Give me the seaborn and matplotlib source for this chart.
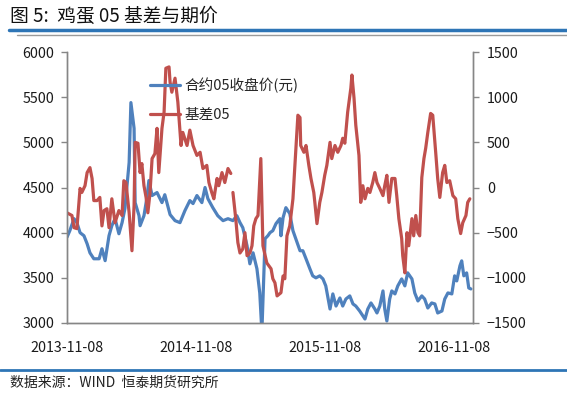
import matplotlib
matplotlib.use("Agg")
import matplotlib.pyplot as plt
import matplotlib.dates as mdates
from matplotlib.lines import Line2D
import numpy as np
import pandas as pd
import seaborn as sns

# ---- data ----
price_dates = [
    "2013-11-08", "2013-11-16", "2013-11-28", "2013-12-06", "2013-12-15", "2013-12-26",
    "2014-01-04", "2014-01-12", "2014-01-23", "2014-02-07", "2014-02-15", "2014-02-24",
    "2014-03-07", "2014-03-15", "2014-03-24", "2014-04-04", "2014-04-13", "2014-04-21",
    "2014-05-03", "2014-05-08", "2014-05-17", "2014-05-20", "2014-05-31", "2014-06-03",
    "2014-06-14", "2014-06-22", "2014-06-28", "2014-07-07", "2014-07-21", "2014-08-04",
    "2014-08-12", "2014-08-27", "2014-09-10", "2014-09-24", "2014-10-08", "2014-10-22",
    "2014-10-31", "2014-11-11", "2014-11-25", "2014-12-04", "2014-12-12", "2014-12-26",
    "2015-01-09", "2015-01-24", "2015-02-07", "2015-02-21", "2015-03-04", "2015-03-13",
    "2015-03-21", "2015-04-02", "2015-04-10", "2015-04-19", "2015-04-30", "2015-05-08",
    "2015-05-14", "2015-05-23", "2015-05-31", "2015-06-06", "2015-06-14", "2015-06-23",
    "2015-07-04", "2015-07-07", "2015-07-13", "2015-07-21", "2015-08-01", "2015-08-10",
    "2015-08-18", "2015-08-30", "2015-09-07", "2015-09-16", "2015-09-27", "2015-10-05",
    "2015-10-14", "2015-10-25", "2015-11-03", "2015-11-11", "2015-11-23", "2015-12-01",
    "2015-12-10", "2015-12-21", "2015-12-29", "2016-01-07", "2016-01-18", "2016-01-27",
    "2016-02-04", "2016-02-15", "2016-03-01", "2016-03-09", "2016-03-18", "2016-03-29",
    "2016-04-04", "2016-04-12", "2016-04-21", "2016-04-26", "2016-05-02", "2016-05-10",
    "2016-05-16", "2016-05-25", "2016-06-02", "2016-06-13", "2016-06-22", "2016-06-30",
    "2016-07-12", "2016-07-20", "2016-07-29", "2016-08-09", "2016-08-17", "2016-08-26",
    "2016-09-06", "2016-09-15", "2016-09-23", "2016-10-05", "2016-10-13", "2016-10-22",
    "2016-11-02", "2016-11-10", "2016-11-16", "2016-11-25", "2016-11-30", "2016-12-06",
    "2016-12-14", "2016-12-20", "2016-12-26",
]
price_05 = [
    3950, 4022, 4155, 4111, 4000, 3966,
    3877, 3777, 3711, 3711, 3822, 3690,
    3966, 4077, 4155, 3988, 4111, 4266,
    4777, 5440, 5155, 4333, 4188, 4077,
    4188, 4377, 4577, 4411, 4444, 4333,
    4420, 4200, 4133, 4111, 4244, 4355,
    4322, 4411, 4333, 4500, 4377, 4277,
    4188, 4133, 4155, 4133, 4188, 4111,
    4055, 3855, 3655, 3777, 3600, 3333,
    2900, 3933, 3966, 4000, 4022, 4100,
    4155, 3966, 4166, 4277, 4211, 4022,
    3933, 3800, 3800, 3711, 3600, 3522,
    3500, 3522, 3488, 3411, 3155, 3322,
    3188, 3277, 3188, 3266, 3300, 3211,
    3188, 3133, 3044, 3155, 3222, 3155,
    3111, 3188, 3355, 3155, 3022, 3266,
    3355, 3322, 3411, 3488, 3411, 3555,
    3488, 3333, 3244, 3300, 3266, 3166,
    3222, 3211, 3111, 3133, 3266, 3333,
    3322, 3522, 3466, 3633, 3688, 3522,
    3555, 3388, 3377,
]

basis_dates = [
    "2013-11-08", "2013-11-22", "2013-11-28", "2013-12-06", "2013-12-15", "2013-12-20",
    "2013-12-29", "2014-01-04", "2014-01-12", "2014-01-18", "2014-01-23", "2014-02-01",
    "2014-02-09", "2014-02-15", "2014-02-21", "2014-03-01", "2014-03-07", "2014-03-15",
    "2014-03-24", "2014-04-04", "2014-04-13", "2014-04-18", "2014-04-24", "2014-05-03",
    "2014-05-11", "2014-05-17", "2014-05-20", "2014-05-28", "2014-06-03", "2014-06-08",
    "2014-06-14", "2014-06-20", "2014-06-25", "2014-07-01", "2014-07-07", "2014-07-15",
    "2014-07-21", "2014-07-26", "2014-08-04", "2014-08-10", "2014-08-15", "2014-08-24",
    "2014-08-27", "2014-09-01", "2014-09-10", "2014-09-18", "2014-09-27", "2014-10-02",
    "2014-10-14", "2014-10-22", "2014-10-31", "2014-11-11", "2014-11-20", "2014-11-28",
    "2014-12-09", "2014-12-15", "2014-12-23", "2014-12-29", "2015-01-07", "2015-01-12",
    "2015-01-21", "2015-01-29", "2015-02-07", "2015-02-15",
    "2015-02-18",  # no data here, the line breaks
    "2015-02-21", "2015-03-01", "2015-03-07", "2015-03-13", "2015-03-21", "2015-03-27",
    "2015-04-02", "2015-04-10", "2015-04-16", "2015-04-21", "2015-04-27", "2015-05-03",
    "2015-05-11", "2015-05-17", "2015-05-28", "2015-06-09", "2015-06-14", "2015-06-20",
    "2015-06-26", "2015-07-07", "2015-07-13", "2015-07-18", "2015-07-24", "2015-08-01",
    "2015-08-10", "2015-08-15", "2015-08-24", "2015-08-30", "2015-09-01", "2015-09-10",
    "2015-09-16", "2015-09-24", "2015-09-30", "2015-10-08", "2015-10-11", "2015-10-17",
    "2015-10-25", "2015-10-31", "2015-11-08", "2015-11-14", "2015-11-23", "2015-11-28",
    "2015-12-07", "2015-12-15", "2015-12-24", "2015-12-29", "2016-01-04", "2016-01-12",
    "2016-01-21", "2016-01-24", "2016-01-30", "2016-02-04", "2016-02-13", "2016-02-18",
    "2016-02-24", "2016-03-01", "2016-03-09", "2016-03-15", "2016-03-23", "2016-03-29",
    "2016-04-04", "2016-04-12", "2016-04-21", "2016-04-26", "2016-05-02", "2016-05-08",
    "2016-05-16", "2016-05-25", "2016-05-30", "2016-06-05", "2016-06-13", "2016-06-16",
    "2016-06-22", "2016-06-28", "2016-07-03", "2016-07-12", "2016-07-17", "2016-07-23",
    "2016-07-29", "2016-08-03", "2016-08-09", "2016-08-15", "2016-08-20", "2016-08-26",
    "2016-09-03", "2016-09-09", "2016-09-18", "2016-09-23", "2016-09-29", "2016-10-07",
    "2016-10-13", "2016-10-19", "2016-10-27", "2016-11-05", "2016-11-13", "2016-11-19",
    "2016-11-27", "2016-12-03", "2016-12-12", "2016-12-17", "2016-12-23",
]
basis_05 = [
    -280, -310, -445, -455, -10, -55,
    20, 165, 220, 100, -145, -145,
    -110, -425, -255, -235, -445, -125,
    -390, -255, -310, 75, 55, -280,
    -700, -200, 500, 490, 165, 265,
    20, -110, -280, -65, 320, 375,
    655, 165, 655, 835, 1320, 1335,
    1165, 1055, 1210, 945, 465, 610,
    465, 635, 465, 355, 390, 210,
    245, 55, -55, -125, 100, 20,
    165, 55, 210, 155,
    np.nan,
    -55, -345, -610, -725, -680, -500,
    -755, -725, -645, -425, -345, -310,
    320, -645, -835, -900, -1010, -1055,
    -1200, -1165, -980, -1010, -535, -425,
    -125, 210, 800, 775, 465, 390,
    465, 245, 100, -55, -165, -400,
    -165, -55, 135, 245, 500, 320,
    465, 390, 465, 545, 490, 835,
    1100, 1245, 990, 690, 355, -165,
    20, -125, -10, -55, 55, 165,
    55, -10, -90, 20, 135, -165,
    100, 100, -90, -345, -565, -755,
    -945, -500, -645, -345, -535, -310,
    -500, -535, 110, 320, 435, 610,
    820, 800, 355, 100, -110, 165,
    245, 55, 75, -90, -125, -345,
    -510, -390, -310, -165, -125,
]

tick_dates = ["2013-11-08", "2014-11-08", "2015-11-08", "2016-11-08"]
title_text = "图 5:  鸡蛋 05 基差与期价"
source_text = "数据来源：WIND  恒泰期货研究所"
price_label = "合约05收盘价(元)"
basis_label = "基差05"

blue = "#4F81BD"
red = "#C0504D"
axis_grey = "#868686"

sns.set_style("white")
plt.rcParams["font.family"] = ["Noto Sans CJK SC", "DejaVu Sans"]

df_price = pd.DataFrame({"date": pd.to_datetime(price_dates), "price": price_05})
df_basis = pd.DataFrame({"date": pd.to_datetime(basis_dates), "basis": basis_05})
gap = df_basis["basis"].isna().cumsum()

fig = plt.figure(figsize=(5.67, 3.99), dpi=100)
ax = fig.add_axes([67 / 567, 1 - 323 / 399, 406 / 567, 271 / 399])
ax2 = ax.twinx()

sns.lineplot(data=df_price, x="date", y="price", ax=ax, color=blue, lw=2.3)
for k, seg in df_basis.dropna().groupby(gap[df_basis["basis"].notna()]):
    sns.lineplot(data=seg, x="date", y="basis", ax=ax2, color=red, lw=2.3)

ax.set_ylim(3000, 6000)
ax2.set_ylim(-1500, 1500)
ax.set_yticks(range(3000, 6001, 500))
ax2.set_yticks(range(-1500, 1501, 500))
ax.set_xlim(pd.Timestamp("2013-11-08"), pd.Timestamp("2017-01-01"))
ax.set_xticks(pd.to_datetime(tick_dates))
ax.xaxis.set_major_formatter(mdates.DateFormatter("%Y-%m-%d"))
ax.set_xlabel("")
ax.set_ylabel("")
ax2.set_xlabel("")
ax2.set_ylabel("")

for a in (ax, ax2):
    for side in ("left", "right", "bottom"):
        a.spines[side].set_color(axis_grey)
        a.spines[side].set_linewidth(1.0)
    a.spines["top"].set_visible(False)
    a.tick_params(length=4, width=1, color=axis_grey, labelsize=10.3, labelcolor="#1a1a1a")
ax.tick_params(axis="x", pad=9)
ax.tick_params(axis="y", pad=5)
ax2.tick_params(axis="y", pad=6)

handles = [Line2D([], [], color=blue, lw=2.3), Line2D([], [], color=red, lw=2.3)]
ax2.legend(handles, [price_label, basis_label], loc="upper left",
           bbox_to_anchor=(0.204, 0.905), frameon=False, fontsize=10.5,
           borderpad=0, borderaxespad=0, handlelength=2.1, handletextpad=0.25,
           labelspacing=1.0)

# header / footer decoration
fig.text(10 / 567, 1 - 16 / 399, title_text, fontsize=13.5, va="center", ha="left", color="#111111")
fig.add_artist(Line2D([9 / 567, 1], [1 - 30 / 399] * 2, color="#2E75B6", lw=2.5))
fig.add_artist(Line2D([17 / 567, 1], [1 - 35 / 399] * 2, color="#9A9A9A", lw=1.0))
fig.add_artist(Line2D([0, 1], [1 - 370 / 399] * 2, color="#2E75B6", lw=2.0))
fig.text(10 / 567, 1 - 383 / 399, source_text, fontsize=10, va="center", ha="left", color="#222222")

fig.savefig("out.png", dpi=100)
